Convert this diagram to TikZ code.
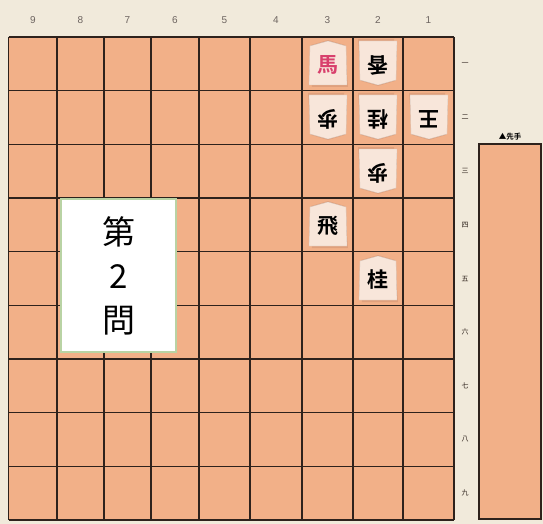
\documentclass[tikz,border=0pt]{standalone}
\usepackage{fontspec}
\newfontfamily\jafont{Noto Sans CJK JP}
\newfontfamily\jabold{Noto Sans CJK JP}[BoldFont={* Bold}]
\newfontfamily\sujifont{Liberation Sans}
\definecolor{haikei}{HTML}{F1EADB}
\definecolor{banIro}{HTML}{F2B088}
\definecolor{senIro}{HTML}{2E221C}
\definecolor{komaIro}{HTML}{F8E6DA}
\definecolor{kageIro}{HTML}{D99A78}
\definecolor{akaIro}{HTML}{D8406C}
\definecolor{wakuIro}{HTML}{B9D3A4}
% x y rot name text
\newcommand{\koma}[5]{%
  \begin{scope}[shift={(#1,#2)},rotate=#3]
    \fill[kage] (-17,-18) -- (0,-23) -- (17,-18) -- (20,24) -- (-16,24) -- cycle;
    \filldraw[komaban] (-18,-17) -- (0,-22) -- (18,-17) -- (19,22) -- (-19,22) -- cycle;
  \end{scope}
  \node[moji,rotate=#3] (#4) at (#1,#2+2) {#5};}
\begin{document}
\begin{tikzpicture}[x=1pt,y=-1pt,
    ban/.style={fill=banIro},
    sen/.style={draw=senIro,line width=1.1pt},
    kage/.style={fill=kageIro,opacity=0.7},
    komaban/.style={fill=komaIro,draw=komaIro!85!black,line width=0.3pt},
    moji/.style={font=\jabold\bfseries\fontsize{21}{21}\selectfont,inner sep=0pt},
    suji/.style={font=\sujifont\fontsize{10}{10}\selectfont,text=senIro!70,inner sep=0pt},
    dan/.style={font=\jafont\fontsize{7}{7}\selectfont,text=senIro,inner sep=0pt}]
  \useasboundingbox[fill=haikei] (0,0) rectangle (543,524);

  % board
  \fill[ban] (8.5,37) rectangle (454,520);
  \foreach \x in {8.5,57,104,151,199,250,302,353,403,454}
    \draw[sen] (\x,37) -- (\x,520);
  \foreach \y in {37,90.7,144.3,198,251.7,305.3,359,412.7,466.3,520}
    \draw[sen] (8.5,\y) -- (454,\y);

  % column and rank labels
  \foreach \x/\s in {33/9,80.5/8,127.5/7,175/6,224.5/5,276/4,327.5/3,378/2,428.5/1}
    \node[suji] (suji\s) at (\x,20) {\s};
  \foreach \y/\d in {64/一,117.5/二,171/三,225/四,278.5/五,332/六,386/七,439.5/八,493/九}
    \node[dan] (dan\d) at (465,\y) {\d};

  % pieces
  \koma{328}{63}{0}{uma}{\textcolor{akaIro}{馬}}
  \koma{378}{63}{180}{kyo}{香}
  \koma{328}{117}{180}{fuA}{歩}
  \koma{378}{117}{180}{kei}{桂}
  \koma{429}{117}{180}{ou}{王}
  \koma{378}{171}{180}{fuB}{歩}
  \koma{328}{224}{0}{hi}{飛}
  \koma{378}{278}{0}{keiS}{桂}

  % problem label
  \node[draw=wakuIro,line width=2pt,fill=white,minimum width=115pt,minimum height=153pt,
        font=\jafont\fontsize{33}{44}\selectfont,align=center,inner sep=0pt] (dai2mon) at (118.5,275.5) {第\\2\\問};

  % komadai
  \filldraw[fill=banIro,draw=senIro,line width=1.1pt] (479,144) rectangle (541,519);
  \node[font=\jabold\bfseries\fontsize{7.5}{7.5}\selectfont,inner sep=0pt] (sente) at (510,137) {▲先手};
\end{tikzpicture}
\end{document}
